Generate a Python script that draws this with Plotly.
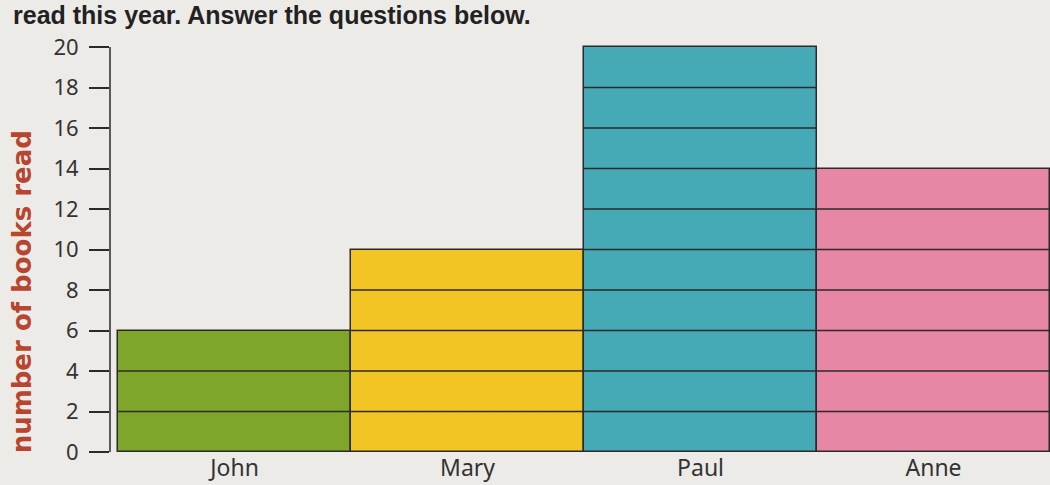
import plotly.graph_objects as go

names = ["John", "Mary", "Paul", "Anne"]
books = [6, 10, 20, 14]
bar_colors = ["#7fa62b", "#f2c524", "#45a9b6", "#e886a5"]
y_ticks = [0, 2, 4, 6, 8, 10, 12, 14, 16, 18, 20]
step = 2

xs = list(range(len(names)))
fig = go.Figure()
fig.add_trace(go.Bar(
    x=xs, y=books, width=1.0,
    marker=dict(color=bar_colors, line=dict(color="#2a2a2a", width=1.5)),
    hoverinfo="x+y", showlegend=False,
))

# lines inside each bar every 2 units
lx, ly = [], []
for i, v in enumerate(books):
    for k in range(step, v, step):
        lx += [i - 0.5, i + 0.5, None]
        ly += [k, k, None]
fig.add_trace(go.Scatter(x=lx, y=ly, mode="lines",
                         line=dict(color="#2a2a2a", width=1.5),
                         hoverinfo="skip", showlegend=False))

# axis line from 0 to 20
fig.add_shape(type="line", xref="paper", yref="y", x0=0, x1=0, y0=0, y1=max(y_ticks),
              line=dict(color="#2a2a2a", width=1.5))

fig.add_annotation(text="<b>read this year. Answer the questions below.</b>",
                   xref="paper", yref="paper", x=-0.104, y=1.099, xanchor="left", yanchor="top",
                   borderpad=0,
                   showarrow=False, font=dict(family="Liberation Sans, Arial", size=25, color="#222222"))

fig.add_annotation(text="<b>number of books read</b>", textangle=-90,
                   xref="paper", yref="paper", x=-0.094, y=0.39, xanchor="center", yanchor="middle",
                   showarrow=False, font=dict(family="DejaVu Sans", size=26, color="#b8452f"))

fig.update_layout(
    width=1050, height=485,
    margin=dict(l=110, r=0, t=41, b=33),
    paper_bgcolor="#ecebe8", plot_bgcolor="#ecebe8",
    bargap=0,
    xaxis=dict(range=[-0.535, 3.5], tickvals=xs, ticktext=names, showgrid=False,
               zeroline=False, showline=False, ticks="", ticklabelstandoff=0,
               tickfont=dict(family="Noto Sans, Arial", size=23, color="#333333")),
    yaxis=dict(range=[0, 20.3], tickvals=y_ticks, showgrid=False,
               zeroline=False, showline=False, ticks="outside", ticklen=20, tickwidth=1.5,
               tickcolor="#2a2a2a", ticklabelstandoff=6,
               tickfont=dict(family="Noto Sans, Arial", size=22, color="#333333")),
)

fig.write_html("out.html", config={"displayModeBar": False},
               post_script="document.body.style.margin='0';")
